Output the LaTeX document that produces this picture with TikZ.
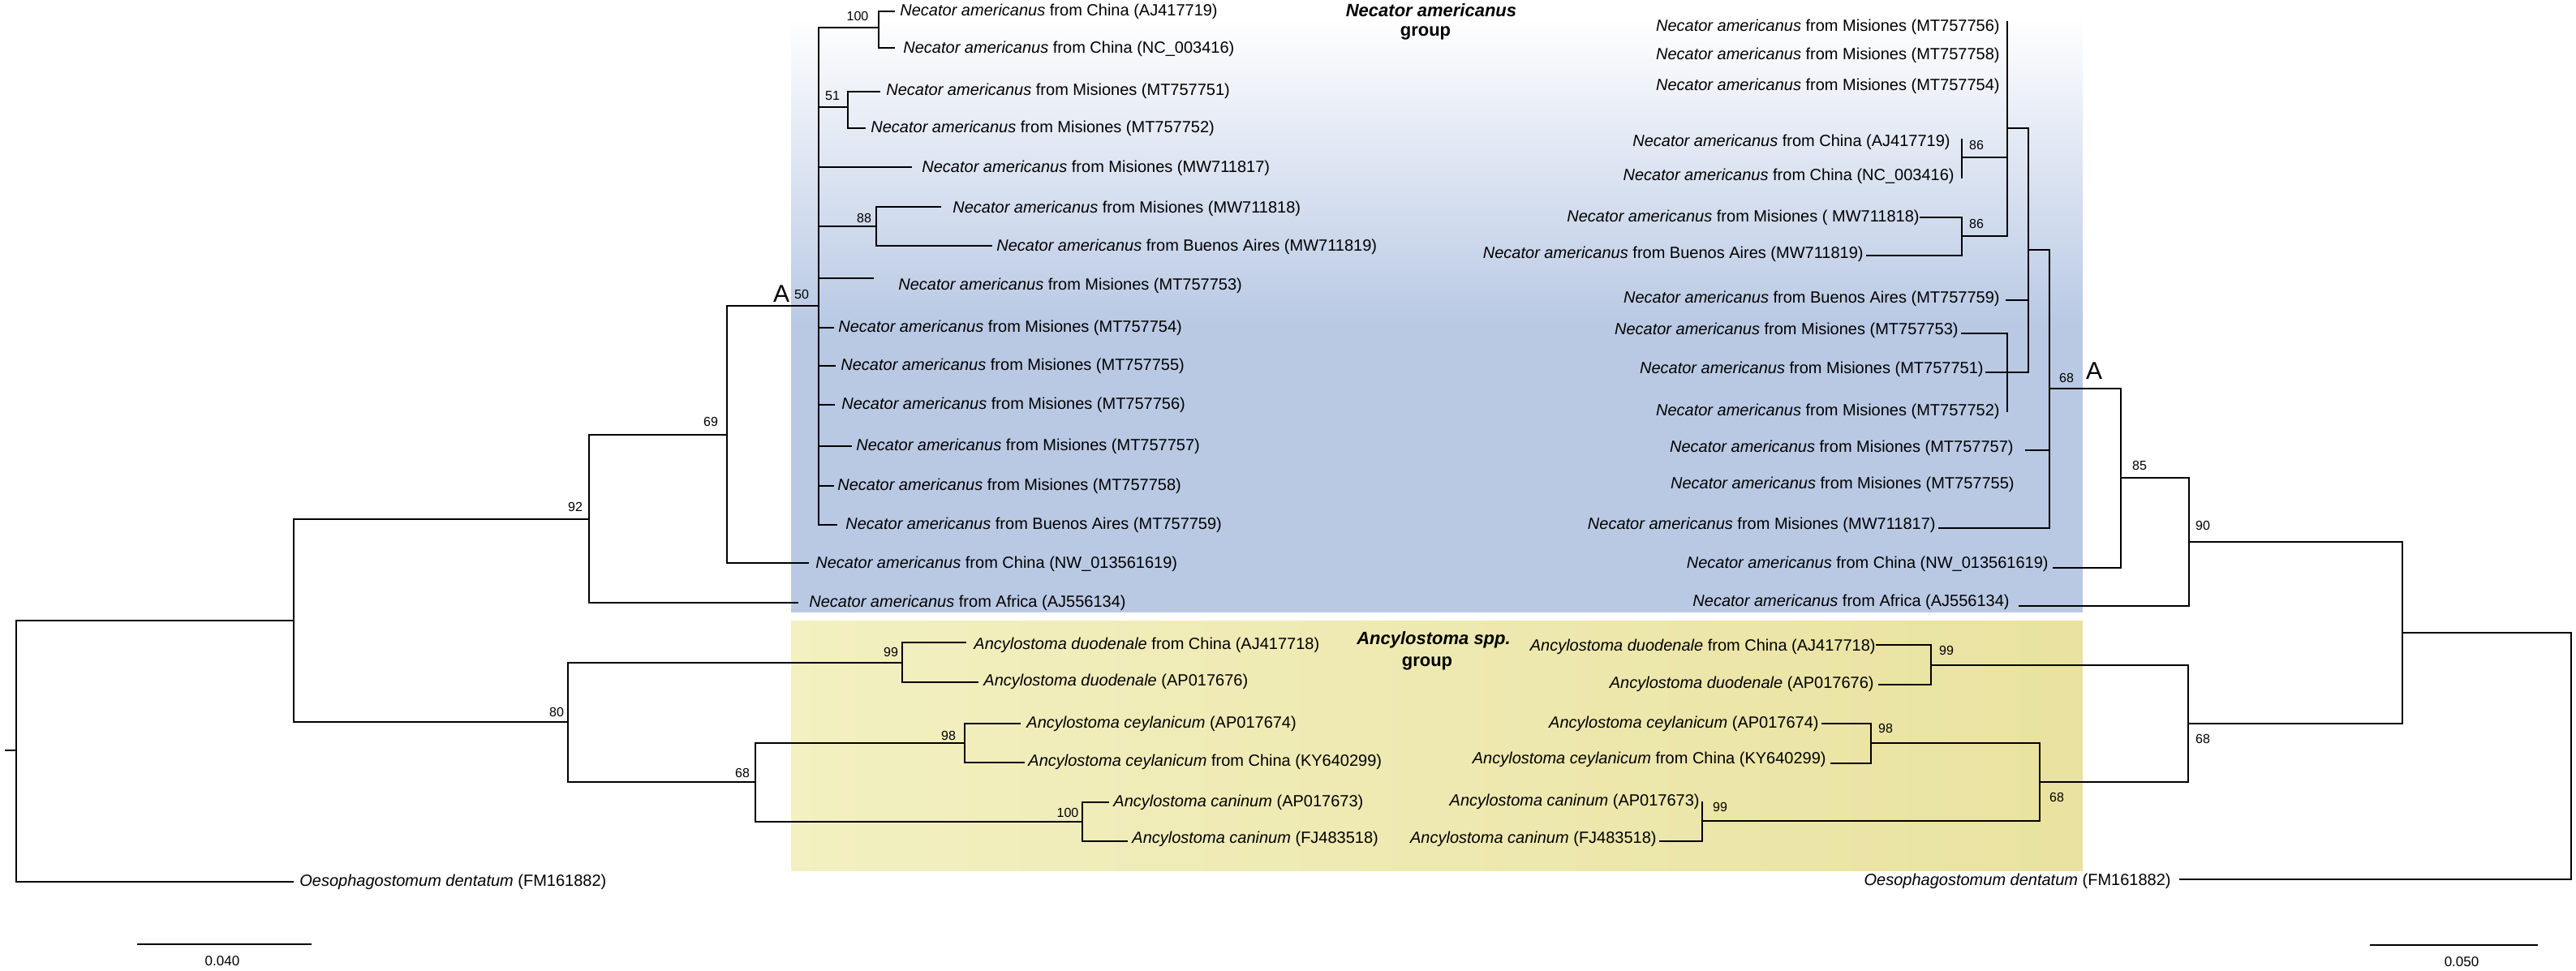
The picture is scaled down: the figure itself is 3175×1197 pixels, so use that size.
\documentclass[tikz,border=0pt]{standalone}
\usepackage{fontspec}
\setmainfont{Liberation Sans}
\definecolor{nablue}{RGB}{185,201,228}
\definecolor{ylwL}{RGB}{243,240,193}
\definecolor{ylwR}{RGB}{233,226,160}
\newcommand{\NecA}{\textit{Necator americanus}}
\newcommand{\AncY}[1]{\textit{Ancylostoma #1}}
\begin{document}
\begin{tikzpicture}[x=0.5pt,y=-0.5pt,
  br/.style={draw=black,line width=1.1pt,line join=miter},
  lab/.style={inner sep=0pt,font=\fontsize{10}{12}\selectfont,text height=7.2pt,text depth=2.1pt},
  bs/.style={inner sep=0pt,font=\fontsize{8}{9.6}\selectfont},
  hdr/.style={inner sep=0pt,font=\fontsize{11}{13}\selectfont\bfseries},
  clade/.style={inner sep=0pt,font=\fontsize{15}{18}\selectfont},
  sbar/.style={draw=black,line width=1.4pt},
  stxt/.style={inner sep=0pt,font=\fontsize{8.5}{10}\selectfont}]
\useasboundingbox (0,0) rectangle (3175,1197);
\fill[white] (0,0) rectangle (3175,1197);
% backgrounds
\shade[top color=white,bottom color=nablue] (975,20) rectangle (2567,400);
\fill[nablue] (975,399) rectangle (2567,755);
\shade[left color=ylwL,right color=ylwR] (975,765) rectangle (2567,1073);
% headers
\node[hdr,anchor=base] (h1a) at (1764,21) {\textit{Necator americanus}};
\node[hdr,anchor=base] (h1b) at (1757,45) {group};
\node[hdr,anchor=base] (h2a) at (1767,794) {\textit{Ancylostoma spp.}};
\node[hdr,anchor=base] (h2b) at (1759,821) {group};

%================ LEFT TREE =================
\coordinate (Lt) at (6,925);
\coordinate (Lr) at (20,925);
\coordinate (L1) at (362,765);
\coordinate (L92) at (726,640);
\coordinate (L80) at (700,890);
\coordinate (L69) at (896,536);
\coordinate (LA) at (1009,377);
\coordinate (L100) at (1083,34);
\coordinate (L51) at (1045,132);
\coordinate (L88) at (1080,279);
\coordinate (L99) at (1112,817);
\coordinate (L68) at (931,964);
\coordinate (L98) at (1189,916);
\coordinate (L100b) at (1334,1013);
\coordinate (eL1) at (1103,14);
\coordinate (eL2) at (1103,59);
\coordinate (eL3) at (1085,113);
\coordinate (eL4) at (1067,158);
\coordinate (eL5) at (1124,206);
\coordinate (eL6) at (1160,255);
\coordinate (eL7) at (1223,303);
\coordinate (eL8) at (1077,343);
\coordinate (eL9) at (1028,404);
\coordinate (eL10) at (1030,451);
\coordinate (eL11) at (1029,499);
\coordinate (eL12) at (1050,550);
\coordinate (eL13) at (1028,599);
\coordinate (eL14) at (1032,647);
\coordinate (eL15) at (997,694);
\coordinate (eL16) at (984,743);
\coordinate (eL17) at (1191,792);
\coordinate (eL18) at (1206,841);
\coordinate (eL19) at (1258,892);
\coordinate (eL20) at (1263,940);
\coordinate (eL21) at (1367,989);
\coordinate (eL22) at (1390,1037);
\coordinate (eL23) at (362,1087);

\draw[br] (Lt) -- (Lr);
\draw[br] (Lr) |- (L1);
\draw[br] (Lr) |- (eL23);
\draw[br] (L1) |- (L92);
\draw[br] (L1) |- (L80);
\draw[br] (L92) |- (L69);
\draw[br] (L92) |- (eL16);
\draw[br] (L69) |- (LA);
\draw[br] (L69) |- (eL15);
\draw[br] (LA) |- (L100);
\draw[br] (LA) |- (L51);
\draw[br] (LA) |- (eL5);
\draw[br] (LA) |- (L88);
\draw[br] (LA) |- (eL8);
\draw[br] (LA) |- (eL9);
\draw[br] (LA) |- (eL10);
\draw[br] (LA) |- (eL11);
\draw[br] (LA) |- (eL12);
\draw[br] (LA) |- (eL13);
\draw[br] (LA) |- (eL14);
\draw[br] (L100) |- (eL1);
\draw[br] (L100) |- (eL2);
\draw[br] (L51) |- (eL3);
\draw[br] (L51) |- (eL4);
\draw[br] (L88) |- (eL6);
\draw[br] (L88) |- (eL7);
\draw[br] (L80) |- (L99);
\draw[br] (L80) |- (L68);
\draw[br] (L99) |- (eL17);
\draw[br] (L99) |- (eL18);
\draw[br] (L68) |- (L98);
\draw[br] (L68) |- (L100b);
\draw[br] (L98) |- (eL19);
\draw[br] (L98) |- (eL20);
\draw[br] (L100b) |- (eL21);
\draw[br] (L100b) |- (eL22);

% left labels
\node[lab,anchor=west] (tL1) at (1109,14) {\NecA{} from China (AJ417719)};
\node[lab,anchor=west] (tL2) at (1113,60) {\NecA{} from China (NC\_003416)};
\node[lab,anchor=west] (tL3) at (1092,112) {\NecA{} from Misiones (MT757751)};
\node[lab,anchor=west] (tL4) at (1073,158) {\NecA{} from Misiones (MT757752)};
\node[lab,anchor=west] (tL5) at (1136,207) {\NecA{} from Misiones (MW711817)};
\node[lab,anchor=west] (tL6) at (1174,257) {\NecA{} from Misiones (MW711818)};
\node[lab,anchor=west] (tL7) at (1228,304) {\NecA{} from Buenos Aires (MW711819)};
\node[lab,anchor=west] (tL8) at (1107,352) {\NecA{} from Misiones (MT757753)};
\node[lab,anchor=west] (tL9) at (1033,404) {\NecA{} from Misiones (MT757754)};
\node[lab,anchor=west] (tL10) at (1036,451) {\NecA{} from Misiones (MT757755)};
\node[lab,anchor=west] (tL11) at (1037,499) {\NecA{} from Misiones (MT757756)};
\node[lab,anchor=west] (tL12) at (1055,550) {\NecA{} from Misiones (MT757757)};
\node[lab,anchor=west] (tL13) at (1032,599) {\NecA{} from Misiones (MT757758)};
\node[lab,anchor=west] (tL14) at (1042,647) {\NecA{} from Buenos Aires (MT757759)};
\node[lab,anchor=west] (tL15) at (1005,695) {\NecA{} from China (NW\_013561619)};
\node[lab,anchor=west] (tL16) at (997,743) {\NecA{} from Africa (AJ556134)};
\node[lab,anchor=west] (tL17) at (1200,795) {\AncY{duodenale} from China (AJ417718)};
\node[lab,anchor=west] (tL18) at (1212,840) {\AncY{duodenale} (AP017676)};
\node[lab,anchor=west] (tL19) at (1265,892) {\AncY{ceylanicum} (AP017674)};
\node[lab,anchor=west] (tL20) at (1267,939) {\AncY{ceylanicum} from China (KY640299)};
\node[lab,anchor=west] (tL21) at (1372,989) {\AncY{caninum} (AP017673)};
\node[lab,anchor=west] (tL22) at (1395,1034) {\AncY{caninum} (FJ483518)};
\node[lab,anchor=west] (tL23) at (369,1087) {\textit{Oesophagostomum dentatum} (FM161882)};

% left support values
\node[bs] (bL100) at (1057,20) {100};
\node[bs] (bL51) at (1026,118) {51};
\node[bs] (bL88) at (1065,269) {88};
\node[bs] (bL50) at (988,363) {50};
\node[clade] (cLA) at (963,362) {A};
\node[bs] (bL69) at (876,520) {69};
\node[bs] (bL92) at (709,625) {92};
\node[bs] (bL80) at (686,878) {80};
\node[bs] (bL68) at (915,953) {68};
\node[bs] (bL99) at (1098,804) {99};
\node[bs] (bL98) at (1169,907) {98};
\node[bs] (bL100b) at (1316,1002) {100};

% left scale bar
\coordinate (sL1) at (169,1164);
\coordinate (sL2) at (384,1164);
\draw[sbar] (sL1) -- (sL2);
\node[stxt] (sLt) at (274,1185) {0.040};

%================ RIGHT TREE =================
\coordinate (Rr) at (3169,932);
\coordinate (R1) at (2961,780);
\coordinate (R90) at (2698,668);
\coordinate (R68a) at (2697,892);
\coordinate (R85) at (2614,589);
\coordinate (RA) at (2526,479);
\coordinate (Rb) at (2500,308);
\coordinate (Rp) at (2474,158);
\coordinate (Rptop) at (2474,26);
\coordinate (R86a) at (2418,194);
\coordinate (R86at) at (2418,171);
\coordinate (R86ab) at (2418,220);
\coordinate (R86b) at (2418,291);
\coordinate (R99a) at (2380,820);
\coordinate (R68b) at (2514,964);
\coordinate (R98) at (2306,916);
\coordinate (R99c) at (2098,1012);
\coordinate (R99ct) at (2098,988);
\coordinate (eR818) at (2366,268);
\coordinate (eR819) at (2300,315);
\coordinate (eR759) at (2472,370);
\coordinate (eR753) at (2417,411);
\coordinate (bR752) at (2474,508);
\coordinate (eR751) at (2447,459);
\coordinate (eR757) at (2496,555);
\coordinate (eR817) at (2389,651);
\coordinate (eRNW) at (2530,700);
\coordinate (eRAf) at (2488,747);
\coordinate (eR718) at (2312,795);
\coordinate (eR676) at (2315,844);
\coordinate (eR674) at (2245,892);
\coordinate (eR299) at (2256,941);
\coordinate (eR518) at (2045,1037);
\coordinate (eROe) at (2686,1084);

\draw[br] (Rr) |- (R1);
\draw[br] (Rr) |- (eROe);
\draw[br] (R1) |- (R90);
\draw[br] (R1) |- (R68a);
\draw[br] (R90) |- (R85);
\draw[br] (R90) |- (eRAf);
\draw[br] (R85) |- (RA);
\draw[br] (R85) |- (eRNW);
\draw[br] (RA) |- (Rb);
\draw[br] (RA) |- (eR757);
\draw[br] (RA) |- (eR817);
\draw[br] (Rb) |- (Rp);
\draw[br] (Rb) |- (eR759);
\draw[br] (Rb) |- (eR751);
\draw[br] (Rp) -- (Rptop);
\draw[br] (Rp) |- (R86a);
\draw[br] (Rp) |- (R86b);
\draw[br] (R86at) -- (R86ab);
\draw[br] (R86b) |- (eR818);
\draw[br] (R86b) |- (eR819);
\draw[br] (eR753) -| (bR752);
\draw[br] (R68a) |- (R99a);
\draw[br] (R68a) |- (R68b);
\draw[br] (R99a) |- (eR718);
\draw[br] (R99a) |- (eR676);
\draw[br] (R68b) |- (R98);
\draw[br] (R68b) |- (R99c);
\draw[br] (R98) |- (eR674);
\draw[br] (R98) |- (eR299);
\draw[br] (R99c) |- (eR518);
\draw[br] (R99c) -- (R99ct);

% right labels
\node[lab,anchor=east] (tR1) at (2465,33) {\NecA{} from Misiones (MT757756)};
\node[lab,anchor=east] (tR2) at (2465,68) {\NecA{} from Misiones (MT757758)};
\node[lab,anchor=east] (tR3) at (2465,106) {\NecA{} from Misiones (MT757754)};
\node[lab,anchor=east] (tR4) at (2404,175) {\NecA{} from China (AJ417719)};
\node[lab,anchor=east] (tR5) at (2409,217) {\NecA{} from China (NC\_003416)};
\node[lab,anchor=east] (tR6) at (2366,268) {\NecA{} from Misiones ( MW711818)};
\node[lab,anchor=east] (tR7) at (2297,313) {\NecA{} from Buenos Aires (MW711819)};
\node[lab,anchor=east] (tR8) at (2465,368) {\NecA{} from Buenos Aires (MT757759)};
\node[lab,anchor=east] (tR9) at (2414,407) {\NecA{} from Misiones (MT757753)};
\node[lab,anchor=east] (tR10) at (2445,455) {\NecA{} from Misiones (MT757751)};
\node[lab,anchor=east] (tR11) at (2465,507) {\NecA{} from Misiones (MT757752)};
\node[lab,anchor=east] (tR12) at (2482,552) {\NecA{} from Misiones (MT757757)};
\node[lab,anchor=east] (tR13) at (2483,597) {\NecA{} from Misiones (MT757755)};
\node[lab,anchor=east] (tR14) at (2386,647) {\NecA{} from Misiones (MW711817)};
\node[lab,anchor=east] (tR15) at (2525,695) {\NecA{} from China (NW\_013561619)};
\node[lab,anchor=east] (tR16) at (2477,742) {\NecA{} from Africa (AJ556134)};
\node[lab,anchor=east] (tR17) at (2312,797) {\AncY{duodenale} from China (AJ417718)};
\node[lab,anchor=east] (tR18) at (2310,843) {\AncY{duodenale} (AP017676)};
\node[lab,anchor=east] (tR19) at (2242,892) {\AncY{ceylanicum} (AP017674)};
\node[lab,anchor=east] (tR20) at (2251,936) {\AncY{ceylanicum} from China (KY640299)};
\node[lab,anchor=east] (tR21) at (2095,988) {\AncY{caninum} (AP017673)};
\node[lab,anchor=east] (tR22) at (2042,1034) {\AncY{caninum} (FJ483518)};
\node[lab,anchor=east] (tR23) at (2676,1086) {\textit{Oesophagostomum dentatum} (FM161882)};

% right support values
\node[bs] (bR86a) at (2436,179) {86};
\node[bs] (bR86b) at (2436,276) {86};
\node[bs] (bR68A) at (2547,466) {68};
\node[clade] (cRA) at (2581,457) {A};
\node[bs] (bR85) at (2637,574) {85};
\node[bs] (bR90) at (2715,648) {90};
\node[bs] (bR99a) at (2399,802) {99};
\node[bs] (bR98) at (2324,898) {98};
\node[bs] (bR99c) at (2120,995) {99};
\node[bs] (bR68b) at (2535,983) {68};
\node[bs] (bR68a) at (2715,911) {68};

% right scale bar
\coordinate (sR1) at (2921,1165);
\coordinate (sR2) at (3128,1165);
\draw[sbar] (sR1) -- (sR2);
\node[stxt] (sRt) at (3034,1186) {0.050};
\end{tikzpicture}
\end{document}
